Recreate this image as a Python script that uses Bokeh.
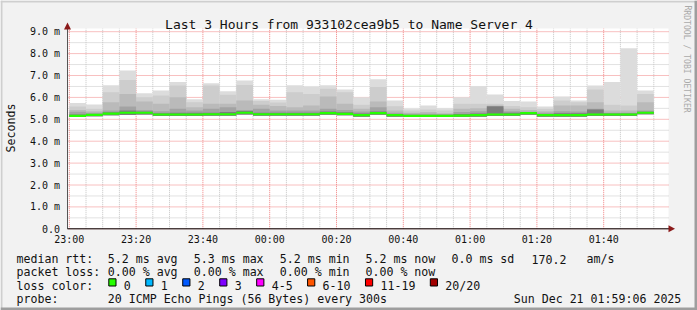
from bokeh.plotting import figure
from bokeh.models import Range1d, ColumnDataSource
from bokeh.embed import file_html
from bokeh.resources import INLINE
from bokeh.core.properties import value

# ---------------- data ----------------
title = "Last 3 Hours from 933102cea9b5 to Name Server 4"
# bar start, minutes after 23:00 (5-minute steps)
bar_start = list(range(0, 175, 5))
median = [5.16, 5.20, 5.26, 5.30, 5.30, 5.22, 5.22, 5.22, 5.23, 5.23, 5.30, 5.23,
          5.23, 5.23, 5.23, 5.28, 5.25, 5.19, 5.28, 5.19, 5.16, 5.16, 5.16, 5.17,
          5.19, 5.22, 5.22, 5.28, 5.19, 5.19, 5.19, 5.22, 5.22, 5.22, 5.30]
low = [5.10, 5.14, 5.19, 5.20, 5.22, 5.15, 5.15, 5.15, 5.16, 5.16, 5.22, 5.16,
       5.16, 5.16, 5.16, 5.21, 5.18, 5.12, 5.21, 5.12, 5.10, 5.10, 5.10, 5.11,
       5.12, 5.15, 5.15, 5.21, 5.12, 5.12, 5.12, 5.15, 5.15, 5.15, 5.23]
smoke1 = [5.74, 5.68, 6.56, 7.23, 6.19, 6.32, 6.70, 5.92, 6.65, 6.28, 6.77, 5.92,
          5.89, 6.56, 6.47, 6.56, 6.36, 6.01, 6.83, 5.86, 5.48, 5.63, 5.51, 6.01,
          6.51, 6.13, 5.83, 5.81, 5.58, 6.04, 5.86, 6.54, 6.70, 8.25, 6.32]
smoke2 = [5.58, 5.48, 6.24, 6.80, 6.01, 6.09, 6.54, 5.78, 6.54, 6.12, 6.57, 5.83,
          5.77, 6.24, 6.16, 6.39, 6.24, 5.66, 6.47, 5.60, 5.40, 5.45, 5.40, 5.71,
          5.71, 5.71, 5.61, 5.55, 5.48, 5.86, 5.78, 6.36, 5.66, 5.63, 6.16]
smoke3 = [5.43, 5.37, 5.78, 6.16, 5.81, 5.71, 6.01, 5.55, 5.71, 5.71, 5.86, 5.66,
          5.61, 5.55, 5.63, 6.04, 5.71, 5.48, 5.81, 5.40, 5.30, 5.33, 5.28, 5.48,
          5.51, 5.63, 5.48, 5.43, 5.37, 5.63, 5.63, 5.78, 5.40, 5.40, 5.78]
smoke4 = [5.34, 5.30, 5.40, 5.58, 5.43, 5.37, 5.48, 5.40, 5.48, 5.55, 5.43, 5.48,
          5.40, 5.40, 5.40, 5.48, 5.43, 5.36, 5.55, 5.30, 5.25, 5.25, 5.24, 5.33,
          5.37, 5.50, 5.37, 5.35, 5.30, 5.37, 5.36, 5.48, 5.30, 5.30, 5.40]
smoke5 = [5.22, 5.24, 5.32, 5.40, 5.36, 5.28, 5.30, 5.30, 5.30, 5.33, 5.38, 5.30,
          5.30, 5.30, 5.30, 5.36, 5.32, 5.26, 5.36, 5.24, 5.20, 5.20, 5.20, 5.24,
          5.26, 5.60, 5.30, 5.32, 5.24, 5.28, 5.28, 5.45, 5.27, 5.27, 5.34]

x_ticks = [0, 20, 40, 60, 80, 100, 120, 140, 160]
x_tick_labels = ["23:00", "23:20", "23:40", "00:00", "00:20", "00:40", "01:00", "01:20", "01:40"]
y_ticks = [0, 1, 2, 3, 4, 5, 6, 7, 8, 9]
y_tick_labels = ["0.0", "1.0 m", "2.0 m", "3.0 m", "4.0 m", "5.0 m", "6.0 m", "7.0 m", "8.0 m", "9.0 m"]

legend_rows = [
    ["median rtt:", "5.2 ms avg", "5.3 ms max", "5.2 ms min", "5.2 ms now", "0.0 ms sd", "170.2", "am/s"],
    ["packet loss:", "0.00 % avg", "0.00 % max", "0.00 % min", "0.00 % now"],
]
loss_labels = ["0", "1", "2", "3", "4-5", "6-10", "11-19", "20/20"]
loss_colors = ["#26ff00", "#00b8ff", "#0059ff", "#7e00ff", "#ff00ff", "#ff5500", "#ff0000", "#a10000"]
probe_text = "20 ICMP Echo Pings (56 Bytes) every 300s"
date_text = "Sun Dec 21 01:59:06 2025"

# ---------------- layout (canvas pixels -> data scale) ----------------
W, H = 697, 310
PX_PER_MIN = 3.34
X0_PX = 68.8          # canvas x of 23:00
PX_PER_MS = 21.9
Y0_PX = 228.3         # canvas y of 0.0
WL, WR, WT = 67, 668, 28   # white plot area edges (px)

def cx(px):
    return (px - X0_PX) / PX_PER_MIN

def cy(py):
    return (Y0_PX - py) / PX_PER_MS

MONO = "DejaVu Sans Mono"

p = figure(width=W, height=H, output_backend="svg", toolbar_location=None,
           x_range=Range1d(cx(0), cx(W)), y_range=Range1d(cy(H), cy(0)),
           x_axis_location=None, y_axis_location=None,
           min_border=0)
p.background_fill_color = "#f2f2f2"
p.border_fill_color = "#f2f2f2"
p.outline_line_color = None
p.grid.visible = False

# white plotting canvas
p.quad(left=[cx(WL)], right=[cx(WR)], bottom=[0], top=[cy(WT)], fill_color="white", line_color=None)

# grid lines (minor grey, major red), dotted
minor_x = [t for t in range(0, 180, 5) if t % 20 != 0]
minor_y = [v + 0.5 for v in range(0, 9)]
p.segment(x0=minor_x, x1=minor_x, y0=[0] * len(minor_x), y1=[cy(WT)] * len(minor_x),
          line_color="#c4c4c4", line_width=1, line_dash="1 1")
p.segment(x0=[cx(WL)] * len(minor_y), x1=[cx(WR)] * len(minor_y), y0=minor_y, y1=minor_y,
          line_color="#c4c4c4", line_width=1, line_dash="1 1")
p.segment(x0=x_ticks, x1=x_ticks, y0=[0] * len(x_ticks), y1=[cy(WT)] * len(x_ticks),
          line_color="#f08080", line_width=1, line_dash="1 1")
p.segment(x0=[cx(WL)] * len(y_ticks), x1=[cx(WR)] * len(y_ticks), y0=y_ticks, y1=y_ticks,
          line_color="#f08080", line_width=1, line_dash="1 1")

# smoke bars
src = ColumnDataSource(dict(
    left=bar_start, right=[b + 5 for b in bar_start], low=low, median=median,
    s1=smoke1, s2=smoke2, s3=smoke3, s4=smoke4, s5=smoke5))
shades = ["#dcdcdc", "#cdcdcd", "#bababa", "#a3a3a3", "#7c7c7c"]
for col, c in zip(["s1", "s2", "s3", "s4", "s5"], shades):
    p.quad(left="left", right="right", bottom="low", top=col, source=src,
           fill_color=c, line_color=None)
p.segment(x0="left", x1="right", y0="median", y1="median", source=src,
          line_color="#26ff00", line_width=2.2)

# axis lines and arrows
p.segment(x0=[cx(WL)], x1=[cx(WL)], y0=[0], y1=[cy(WT)], line_color="#555555", line_width=1)
p.segment(x0=[cx(WL)], x1=[cx(670)], y0=[0], y1=[0], line_color="#000000", line_width=1)
p.patch(x=[cx(WL - 3.5), cx(WL + 3.5), cx(WL)], y=[cy(29), cy(29), cy(22)],
        fill_color="#8b1a1a", line_color=None)
p.patch(x=[cx(668), cx(668), cx(674.5)], y=[cy(Y0_PX - 3.5), cy(Y0_PX + 3.5), cy(Y0_PX)],
        fill_color="#8b1a1a", line_color=None)

# tick labels
p.text(x=x_ticks, y=[cy(233)] * len(x_ticks), text=x_tick_labels,
       text_font=value(MONO), text_font_size="10px", text_align="center",
       text_baseline="top", text_color="#111111")
p.text(x=[cx(59.5)] * len(y_ticks), y=y_ticks, text=y_tick_labels,
       text_font=value(MONO), text_font_size="10px", text_align="right",
       text_baseline="middle", text_color="#111111")


def txt(px, py, text, size="11.6px", align="left", baseline="alphabetic", color="#111111", angle=0.0):
    p.text(x=[cx(px)], y=[cy(py)], text=[text], text_font=value(MONO), text_font_size=size,
           text_align=align, text_baseline=baseline, text_color=color, angle=angle)


txt(348.5, 24, title, size="13px", align="center")
txt(10.5, 127.5, "Seconds", align="center", baseline="middle", angle=1.5708)
txt(687, 5, "RRDTOOL / TOBI OETIKER", size="8.1px", baseline="middle", color="#aaaaaa", angle=-1.5708)

row_x = [16, 107.3, 193.3, 279.3, 365, 451, 531, 586]
row_y = [258.5, 271.8, 285.1, 298.4]
for r, row in enumerate(legend_rows):
    for i, t in enumerate(row):
        txt(row_x[i], row_y[r], t)
txt(16, row_y[2], "loss color:")
bx = 108.3
for lab, col in zip(loss_labels, loss_colors):
    p.quad(left=[cx(bx)], right=[cx(bx + 7.2)], top=[cy(278.3)], bottom=[cy(285.5)],
           fill_color=col, line_color="black", line_width=1)
    txt(bx + 15, row_y[2], lab)
    bx = bx + 15 + len(lab) * 6.97 + 15
txt(16, row_y[3], "probe:")
txt(107.3, row_y[3], probe_text)
txt(513.3, row_y[3], date_text)

# 3D-ish frame of the image
for (l, r, t, b, c) in [(0, W, 0, 2, "#cfcfcf"), (0, 2, 0, H, "#cfcfcf"),
                        (W - 3, W, 0, H, "#9e9e9e"), (0, W, H - 3, H, "#9e9e9e")]:
    p.quad(left=[cx(l)], right=[cx(r)], top=[cy(t)], bottom=[cy(b)], fill_color=c, line_color=None)

open("out.html", "w").write(file_html(p, INLINE))
